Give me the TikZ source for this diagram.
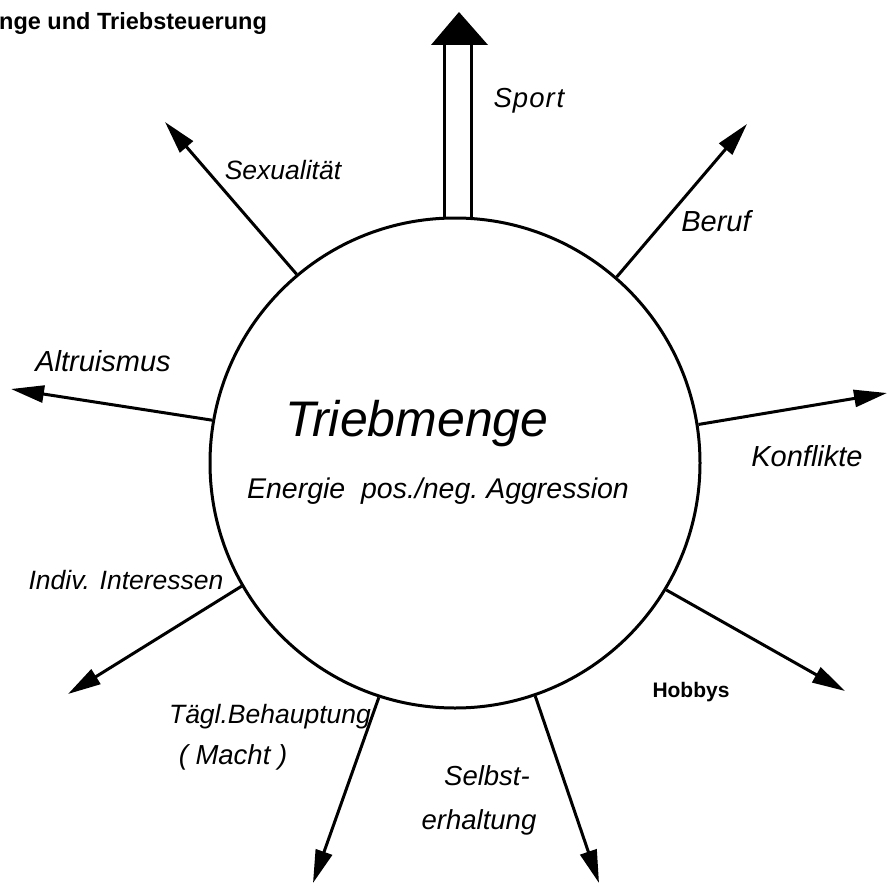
\documentclass[tikz,border=0pt]{standalone}
\usepackage{fontspec}
\setmainfont{Liberation Sans}
\usetikzlibrary{arrows.meta}
\tikzset{
  outline/.style={line width=3pt},
  ray/.style={line width=3pt,-{Triangle[length=33pt,width=17pt]}},
  lab/.style={inner sep=0pt,font=\fontsize{26.5}{30}\selectfont\itshape},
  labmid/.style={inner sep=0pt,font=\fontsize{27.5}{30}\selectfont\itshape},
  labbig/.style={inner sep=0pt,font=\fontsize{29}{32}\selectfont\itshape},
}
\begin{document}
\begin{tikzpicture}[x=1pt,y=-1pt]
\useasboundingbox (0,0) rectangle (887,883);
% title
\node[anchor=base west,inner sep=0pt,font=\fontsize{23.5}{26}\selectfont\bfseries] (title) at (-1,30) {nge und Triebsteuerung};
% circle
\node[draw,outline,circle,minimum size=490pt,inner sep=0pt] (c) at (455,463) {};
\node[inner sep=0pt,font=\fontsize{50}{55}\selectfont\itshape] (tm) at (417,424) {Triebmenge};
\node[inner sep=0pt,font=\fontsize{28.5}{30}\selectfont\itshape] (en) at (438,491) {Energie\ \ pos./neg.\ Aggression};
% tips
\coordinate (tSex) at (165,122);
\coordinate (tBer) at (747,124);
\coordinate (tAlt) at (11,389);
\coordinate (tKon) at (887,393);
\coordinate (tInd) at (68,694);
\coordinate (tHob) at (845,691);
\coordinate (tTag) at (313,883);
\coordinate (tSel) at (599,883);
% rays
\draw[ray] (c.130.6) -- (tSex);
\draw[ray] (c.49.3) -- (tBer);
\draw[ray] (c.170.8) -- (tAlt);
\draw[ray] (c.9.1) -- (tKon);
\draw[ray] (c.210.6) -- (tInd);
\draw[ray] (c.329) -- (tHob);
\draw[ray] (c.252.7) -- (tTag);
\draw[ray] (c.289.4) -- (tSel);
% sport hollow arrow
\coordinate (sL) at (444,43);
\coordinate (sR) at (471,43);
\coordinate (sTip) at (459,12);
\draw[outline] (sL) -- (sL |- c.north);
\draw[outline] (sR) -- (sR |- c.north);
\fill (431,45) -- (sTip) -- (488,45) -- cycle;
% labels
\node[labmid] (lSport) at (529,101) {S\kern1pt p\kern1pt o\kern1pt r\kern2pt t};
\node[lab] (lSex) at (283,170) {Sexualität};
\node[labbig] (lBer) at (716,221) {Beruf};
\node[labbig] (lAlt) at (103,361) {Altruismus};
\node[labbig] (lKon) at (807,456) {Konflikte};
\node[lab] (lInd) at (126,580) {Indiv. Interessen};
\node[inner sep=0pt,font=\fontsize{21}{24}\selectfont\bfseries] (lHob) at (691,692) {Hobbys};
\node[lab] (lTag) at (270,717) {Tägl.Behauptung};
\node[labmid] (lMac) at (233,757) {( Macht )};
\node[labmid] (lSel1) at (487,776) {Selbst-};
\node[labmid] (lSel2) at (479,822) {erhaltung};
\end{tikzpicture}
\end{document}
